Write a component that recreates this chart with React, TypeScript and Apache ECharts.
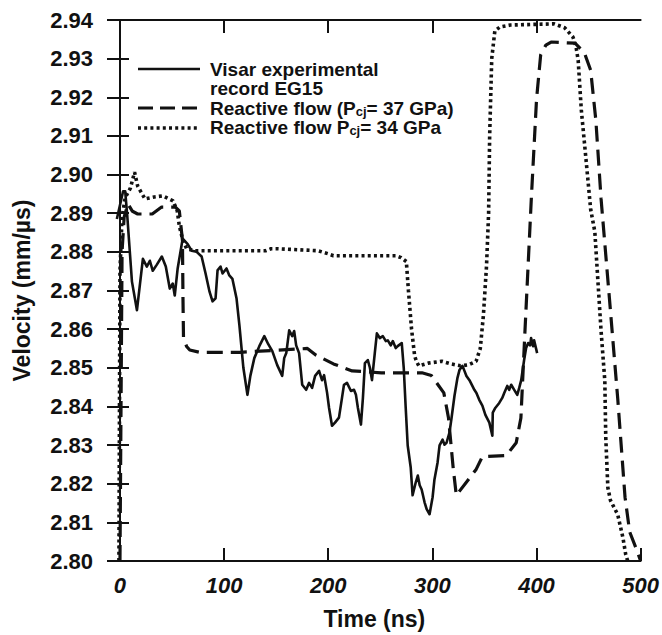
import React, { useEffect, useRef } from "react";
import * as echarts from "echarts";

// ---- Data ----
const tVisar = [-3, 3, 5, 7, 11.5, 14.3, 16.3, 22, 25.8, 28.7,
  31.5, 35.4, 40.2, 44, 47.8, 50.7, 52.6, 55.4, 60.2, 65,
  68.8, 73.6, 78.4, 82.2, 86, 88.9, 91.8, 93.7, 96.6, 98.5,
  102.3, 105, 108, 111.9, 114.7, 118.5, 122.4, 125.2, 129, 133.8,
  138.6, 142.4, 146.3, 151, 155.8, 157.7, 159.7, 162.5, 165.4, 167.3,
  169.2, 172, 175, 178.8, 181.6, 184.5, 187.4, 191.2, 194, 196,
  198.9, 200.8, 203.6, 206.5, 210.3, 213.2, 215.1, 218, 221.8, 224.7,
  226.6, 228.5, 231.4, 233.3, 235.2, 238, 240, 242, 244.7, 246.7,
  249.5, 252.4, 255.3, 257.2, 260, 262, 264.8, 266.7, 270.6, 272.5,
  274.4, 276.3, 279.2, 281, 284, 286, 287.8, 289.7, 292.5, 294.5,
  297.3, 300.2, 302, 305, 306.9, 309.8, 311.7, 313.6, 316.4, 318.4,
  321.2, 324.1, 326, 328.9, 330.8, 332.7, 335.6, 338.4, 340.3, 342.3,
  345, 348, 350.9, 354.7, 357.6, 358, 360.4, 364.2, 367.1, 369,
  371.9, 373.8, 375.7, 378.6, 381.5, 383.4, 385.3, 388.1, 390, 392,
  393.9, 394.8, 396.7, 397.7, 400.6];
const vVisar = [2.8885, 2.8957, 2.8957, 2.8893, 2.8723, 2.868, 2.8649, 2.8782, 2.8762, 2.8777,
  2.8751, 2.8767, 2.8788, 2.8762, 2.8705, 2.8718, 2.8687, 2.8757, 2.8834, 2.882,
  2.8803, 2.88, 2.8788, 2.8744, 2.8697, 2.8672, 2.868, 2.8752, 2.8762, 2.8744,
  2.8757, 2.8739, 2.873, 2.868, 2.861, 2.85, 2.843, 2.8479, 2.8525, 2.8556,
  2.8582, 2.8561, 2.8543, 2.8507, 2.8479, 2.8525, 2.8538, 2.8597, 2.8582, 2.8595,
  2.8558, 2.8538, 2.8456, 2.8443, 2.8461, 2.8448, 2.8479, 2.8492, 2.8468, 2.8481,
  2.8435, 2.8396, 2.835, 2.8358, 2.8371, 2.8422, 2.8456, 2.8461, 2.844, 2.8443,
  2.843, 2.8396, 2.8353, 2.8422, 2.8512, 2.852, 2.85, 2.8468, 2.8538, 2.8589,
  2.8577, 2.8582, 2.8569, 2.8571, 2.8558, 2.8569, 2.8551, 2.8556, 2.8564, 2.85,
  2.8396, 2.8299, 2.8242, 2.817, 2.8203, 2.8221, 2.8196, 2.8185, 2.8152, 2.8134,
  2.8121, 2.8165, 2.8211, 2.8255, 2.8299, 2.8314, 2.8301, 2.8306, 2.8332, 2.837,
  2.8427, 2.8474, 2.8494, 2.8505, 2.8492, 2.8479, 2.8468, 2.8453, 2.8443, 2.8435,
  2.8417, 2.8402, 2.8378, 2.8358, 2.8324, 2.8384, 2.8396, 2.8409, 2.8422, 2.8435,
  2.8453, 2.8443, 2.8456, 2.8443, 2.843, 2.8448, 2.8468, 2.852, 2.8551, 2.8564,
  2.8558, 2.8577, 2.8556, 2.8571, 2.8538];

const t37 = [0, 1, 2, 4, 7.6, 12, 17, 31, 40, 53,
  57, 60, 60.5, 61, 64, 67, 76.5, 115, 180, 188,
  205, 223, 251, 290, 299, 311, 315.5, 320, 323, 342,
  348, 371, 380.5, 385, 389, 395, 400, 404, 409, 414,
  437, 446, 452, 457, 462, 470, 478, 485, 489.5, 497, 500];
const v37 = [2.80, 2.84, 2.88, 2.889, 2.8924, 2.8905, 2.8898, 2.8898, 2.8916, 2.8916,
  2.8906, 2.883, 2.868, 2.8577, 2.8555, 2.8546, 2.854, 2.854, 2.855, 2.8533,
  2.851, 2.8492, 2.8487, 2.8487, 2.848, 2.8435, 2.837, 2.824, 2.817, 2.8237,
  2.827, 2.8273, 2.8306, 2.837, 2.86, 2.8937, 2.9194, 2.931, 2.9335, 2.9343,
  2.934, 2.9315, 2.927, 2.914, 2.8937, 2.868, 2.842, 2.8165, 2.8075, 2.8023, 2.80];

const t34 = [-1, 0, 2, 5, 10, 14, 17, 24, 33, 41,
  51, 55, 57, 60, 64, 72, 140, 145, 152, 190,
  200, 205, 265, 270, 275, 277, 280, 283, 285, 287,
  296, 309, 318, 327, 335, 342, 346, 349, 352, 354,
  355, 357, 360, 365, 375, 417, 427, 435, 438, 440,
  443, 447.5, 452, 456, 459, 462, 465.6, 466.5, 468.5, 471,
  478, 483, 485.7, 487.6];
const v34 = [2.80, 2.875, 2.889, 2.894, 2.8965, 2.9006, 2.897, 2.8937, 2.8942, 2.8945,
  2.8932, 2.8906, 2.8867, 2.8834, 2.8808, 2.8803, 2.8803, 2.8808, 2.8808, 2.8803,
  2.8795, 2.879, 2.879, 2.8785, 2.8775, 2.87, 2.86, 2.853, 2.8515, 2.8505,
  2.8512, 2.8517, 2.851, 2.8505, 2.8508, 2.8517, 2.855, 2.8636, 2.8764, 2.89,
  2.91, 2.93, 2.9372, 2.9382, 2.9387, 2.939, 2.938, 2.9356, 2.933, 2.9296,
  2.9168, 2.904, 2.891, 2.8852, 2.8723, 2.8595, 2.8466, 2.832, 2.819, 2.8157,
  2.812, 2.806, 2.8016, 2.80];

const xTicks = [0, 100, 200, 300, 400, 500];
const xTopTicks = [0, 100, 200, 300, 400];

const INK = "#111";
const FONT = '"Liberation Sans", Arial, Helvetica, sans-serif';

function zip(t: number[], v: number[]) {
  const n = Math.min(t.length, v.length);
  const out: number[][] = [];
  for (let i = 0; i < n; i++) out.push([t[i], v[i]]);
  return out;
}

export default function App() {
  const ref = useRef<HTMLDivElement>(null);
  useEffect(() => {
    if (!ref.current) return;
    const chart = echarts.init(ref.current, undefined, { renderer: "svg" });
    const axisLine = { show: true, lineStyle: { color: INK, width: 2 } };
    const labelFont = { color: INK, fontFamily: FONT, fontWeight: "bold" as const };
    const subStyle = { fontSize: 13, fontWeight: "bold", fontFamily: FONT, fill: INK, lineHeight: 19, verticalAlign: "bottom" };
    const mainStyle = { fontSize: 19, fontWeight: "bold", fontFamily: FONT, fill: INK, lineHeight: 19 };
    chart.setOption({
      animation: false,
      backgroundColor: "#fff",
      grid: { left: 108, right: 19, top: 20, bottom: 71 },
      xAxis: [
        {
          type: "value",
          min: -11.5,
          max: 500,
          position: "bottom",
          axisLine,
          splitLine: { show: false },
          axisTick: { inside: true, length: 13, lineStyle: { color: INK, width: 2 }, customValues: xTicks },
          axisLabel: { ...labelFont, fontSize: 22, fontStyle: "italic", margin: 13, customValues: xTicks },
          name: "Time (ns)",
          nameLocation: "middle",
          nameGap: 46,
          nameTextStyle: { ...labelFont, fontSize: 23 },
        },
        {
          type: "value",
          min: -11.5,
          max: 500,
          position: "top",
          axisLine,
          splitLine: { show: false },
          axisTick: { inside: true, length: 13, lineStyle: { color: INK, width: 2 }, customValues: xTopTicks },
          axisLabel: { show: false },
        },
      ],
      yAxis: [
        {
          type: "value",
          min: 2.8,
          max: 2.94,
          interval: 0.01,
          position: "left",
          axisLine,
          splitLine: { show: false },
          axisTick: { inside: true, length: 9, lineStyle: { color: INK, width: 2 } },
          axisLabel: { ...labelFont, fontSize: 22, margin: 15, formatter: (v: number) => v.toFixed(2) },
          name: "Velocity (mm/µs)",
          nameLocation: "middle",
          nameGap: 75,
          nameRotate: 90,
          nameTextStyle: { ...labelFont, fontSize: 23 },
        },
        {
          type: "value",
          min: 2.8,
          max: 2.94,
          interval: 0.01,
          position: "right",
          axisLine,
          splitLine: { show: false },
          axisTick: { inside: true, length: 13, lineStyle: { color: INK, width: 2 } },
          axisLabel: { show: false },
        },
      ],
      series: [
        {
          name: "Visar experimental record EG15",
          type: "line",
          data: zip(tVisar, vVisar),
          showSymbol: false,
          lineStyle: { color: INK, width: 2.6, join: "round" },
        },
        {
          name: "Reactive flow (Pcj = 37 GPa)",
          type: "line",
          data: zip(t37, v37),
          showSymbol: false,
          lineStyle: { color: INK, width: 3.2, type: [16, 8] },
        },
        {
          name: "Reactive flow Pcj = 34 GPa",
          type: "line",
          data: zip(t34, v34),
          showSymbol: false,
          lineStyle: { color: INK, width: 3.6, type: [3, 3.2] },
        },
      ],
      graphic: [
        { type: "line", shape: { x1: 138, y1: 69, x2: 200, y2: 69 }, style: { stroke: INK, lineWidth: 2.6 } },
        { type: "line", shape: { x1: 138, y1: 108, x2: 200, y2: 108 }, style: { stroke: INK, lineWidth: 3.2, lineDash: [15, 7] } },
        { type: "line", shape: { x1: 138, y1: 128, x2: 200, y2: 128 }, style: { stroke: INK, lineWidth: 3.6, lineDash: [3, 3.2] } },
        { type: "text", x: 210, y: 69.5, style: { text: "Visar experimental", font: `bold 19px ${FONT}`, fill: INK, verticalAlign: "middle" } },
        { type: "text", x: 210, y: 88.5, style: { text: "record EG15", font: `bold 19px ${FONT}`, fill: INK, verticalAlign: "middle" } },
        {
          type: "text", x: 210, y: 108,
          style: {
            text: "{m|Reactive flow (P}{sub|cj}{m|= 37 GPa)}",
            font: `bold 19px ${FONT}`, fill: INK, verticalAlign: "middle",
            rich: { m: mainStyle, sub: subStyle },
          },
        },
        {
          type: "text", x: 210, y: 127.5,
          style: {
            text: "{m|Reactive flow P}{sub|cj}{m|= 34 GPa}",
            font: `bold 19px ${FONT}`, fill: INK, verticalAlign: "middle",
            rich: { m: mainStyle, sub: subStyle },
          },
        },
      ],
    });
    return () => chart.dispose();
  }, []);
  return (
    <div
      ref={ref}
      style={{ position: "absolute", left: 0, top: 0, width: 662, height: 635, background: "#fff" }}
    />
  );
}
